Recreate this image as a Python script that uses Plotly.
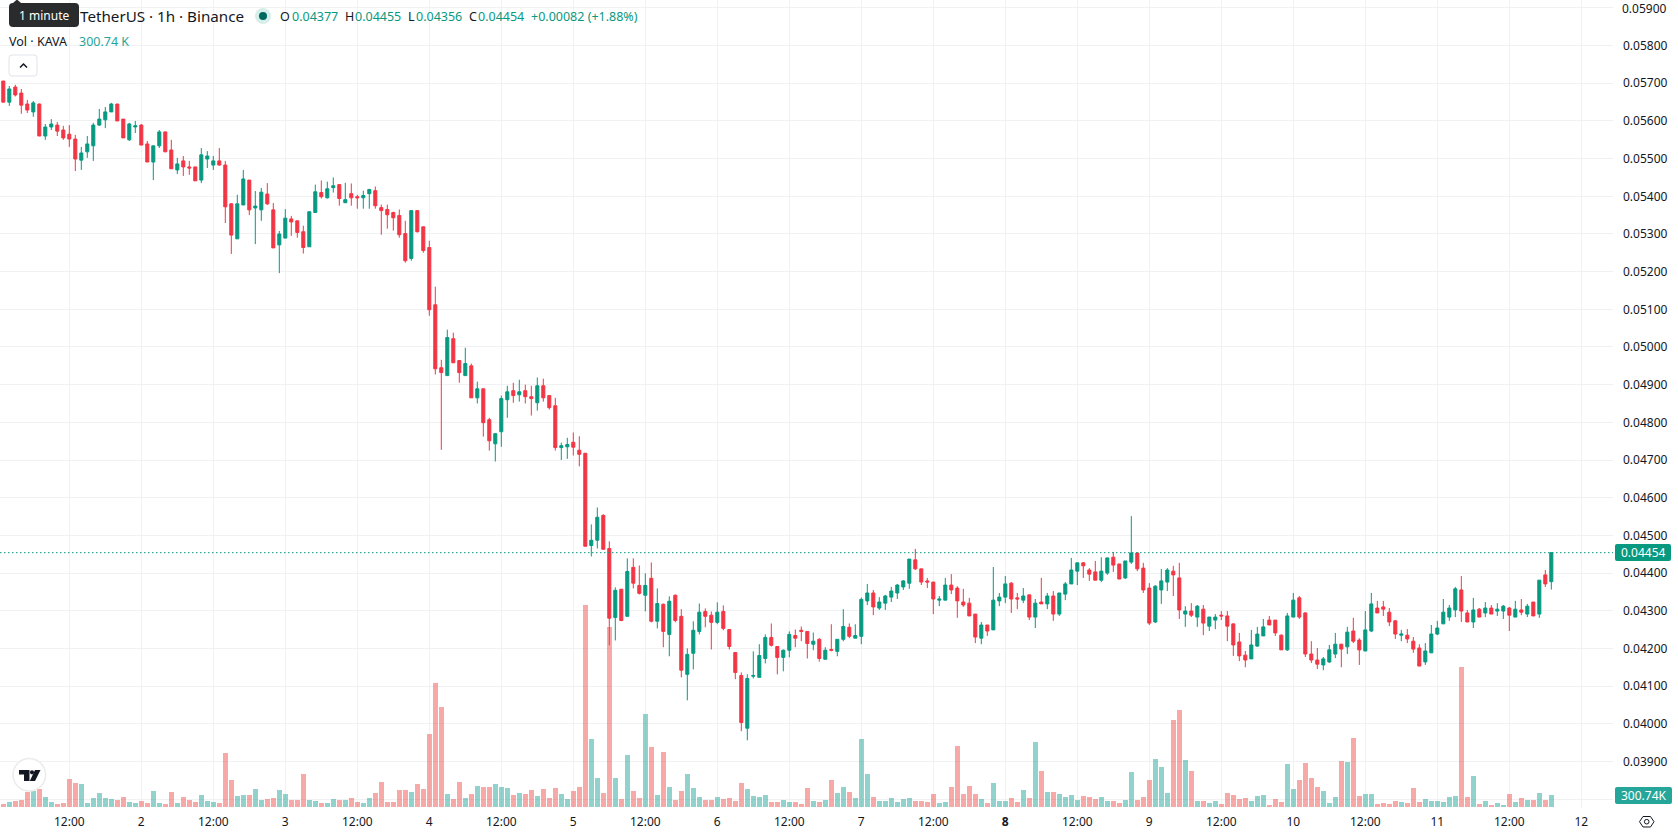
import plotly.graph_objects as go

FONT = "Noto Sans"
INK = "#131722"
UP = "#089981"
DOWN = "#f23645"
GRID = "#f0f1f3"
WIDTH, HEIGHT = 1678, 835
PANE_W, PANE_H = 1613, 808

# Hourly KAVA/USDT candles, prices in units of 0.00001
opens_e5 = [
    5706,5650,5690,5674,5645,5624,5645,5560,5584,5589,5576,5565,5552,5496,5518,5534,
    5589,5603,5624,5645,5605,5550,5584,5589,5539,5491,5534,5571,5523,5470,5494,5478,
    5478,5443,5499,5483,5494,5483,5380,5287,5377,5443,5369,5364,5406,5364,5271,5289,
    5340,5335,5306,5266,5357,5410,5396,5423,5431,5383,5407,5399,5396,5407,5415,5370,
    5365,5357,5349,5301,5235,5362,5319,5264,5112,4945,4924,5022,4964,4924,4950,4865,
    4889,4807,4743,4775,4860,4884,4873,4884,4868,4852,4897,4871,4844,4733,4735,4747,
    4726,4718,4473,4487,4553,4465,4282,4357,4285,4415,4367,4341,4386,4272,4317,4237,
    4341,4285,4131,4187,4245,4298,4288,4269,4298,4250,4189,4128,3988,4126,4123,4173,
    4229,4205,4176,4195,4234,4248,4245,4211,4224,4171,4197,4192,4224,4256,4227,4232,
    4326,4347,4307,4320,4336,4347,4363,4373,4435,4411,4379,4376,4328,4328,4368,4360,
    4323,4320,4291,4227,4262,4249,4326,4336,4373,4334,4328,4342,4283,4323,4318,4339,
    4291,4344,4371,4405,4427,4408,4403,4381,4400,4442,4424,4387,4429,4453,4413,4360,
    4270,4355,4376,4405,4387,4291,4299,4283,4304,4259,4275,4288,4286,4265,4217,4182,
    4172,4206,4233,4275,4275,4235,4196,4283,4334,4294,4185,4169,4156,4164,4185,4211,
    4204,4246,4222,4193,4246,4307,4310,4296,4273,4235,4235,4219,4201,4164,4188,4238,
    4265,4283,4302,4355,4294,4270,4304,4294,4307,4299,4299,4307,4283,4302,4291,4323,
    4291,4395,4377,
]
highs_e5 = [
    5706,5693,5696,5685,5656,5653,5646,5592,5605,5597,5587,5589,5563,5531,5560,5595,
    5632,5637,5648,5645,5605,5595,5600,5592,5547,5534,5576,5571,5550,5502,5507,5494,
    5478,5528,5520,5507,5528,5494,5382,5404,5470,5443,5414,5422,5435,5382,5308,5366,
    5348,5335,5322,5359,5431,5442,5439,5450,5431,5436,5434,5404,5415,5420,5426,5378,
    5378,5359,5365,5335,5362,5362,5319,5282,5160,4966,5046,5038,4964,4998,4956,4908,
    4889,4812,4770,4871,4897,4905,4913,4900,4897,4919,4916,4871,4865,4746,4759,4773,
    4763,4718,4529,4574,4556,4484,4362,4357,4439,4439,4420,4399,4428,4359,4319,4338,
    4343,4304,4200,4272,4319,4306,4298,4322,4314,4250,4189,4136,4131,4192,4211,4237,
    4266,4205,4197,4245,4250,4258,4245,4242,4227,4203,4264,4224,4304,4266,4264,4335,
    4371,4355,4336,4342,4363,4371,4381,4437,4464,4411,4387,4376,4339,4387,4397,4365,
    4358,4334,4291,4270,4262,4416,4347,4392,4376,4347,4360,4342,4331,4387,4347,4352,
    4347,4376,4440,4427,4429,4413,4432,4442,4441,4456,4424,4432,4551,4455,4427,4373,
    4368,4411,4413,4419,4427,4312,4320,4315,4315,4284,4291,4299,4299,4265,4241,4193,
    4249,4257,4278,4286,4275,4237,4294,4347,4339,4296,4219,4201,4177,4209,4241,4212,
    4257,4281,4227,4299,4347,4326,4326,4307,4275,4249,4251,4230,4211,4214,4262,4273,
    4331,4315,4363,4392,4302,4334,4307,4323,4315,4320,4315,4310,4326,4331,4318,4323,
    4381,4408,4455,
]
lows_e5 = [
    5650,5640,5665,5619,5621,5611,5560,5550,5576,5560,5550,5531,5467,5470,5502,5494,
    5587,5581,5624,5600,5555,5547,5568,5536,5491,5443,5528,5518,5473,5459,5454,5457,
    5441,5435,5475,5470,5481,5329,5247,5287,5377,5350,5273,5335,5377,5263,5196,5289,
    5295,5290,5248,5266,5357,5394,5394,5410,5375,5383,5375,5367,5367,5367,5367,5298,
    5314,5309,5290,5224,5229,5304,5250,5083,4927,4727,4924,4958,4905,4924,4865,4850,
    4762,4725,4696,4735,4812,4852,4855,4850,4818,4831,4855,4834,4725,4700,4703,4712,
    4683,4471,4444,4465,4463,4208,4221,4272,4285,4359,4343,4298,4269,4253,4203,4179,
    4269,4123,4062,4144,4237,4256,4197,4264,4248,4197,4118,3980,3956,4120,4123,4160,
    4205,4131,4139,4176,4203,4219,4173,4195,4165,4171,4192,4179,4219,4227,4227,4211,
    4315,4288,4302,4302,4323,4331,4355,4358,4408,4368,4360,4291,4312,4328,4344,4281,
    4310,4286,4214,4211,4233,4249,4312,4320,4294,4304,4320,4275,4254,4318,4304,4273,
    4286,4328,4371,4368,4387,4379,4381,4376,4395,4403,4384,4384,4424,4405,4347,4262,
    4267,4318,4352,4339,4278,4257,4283,4257,4235,4246,4251,4275,4219,4180,4166,4150,
    4172,4204,4233,4262,4233,4196,4193,4283,4278,4177,4161,4145,4142,4161,4174,4150,
    4185,4214,4156,4193,4243,4294,4286,4259,4225,4219,4214,4188,4153,4156,4188,4235,
    4265,4273,4283,4270,4270,4254,4283,4283,4291,4286,4278,4246,4283,4288,4283,4286,
    4281,4363,4356,
]
closes_e5 = [
    5650,5685,5669,5642,5629,5648,5560,5584,5592,5573,5555,5552,5499,5515,5539,5589,
    5605,5624,5645,5600,5555,5592,5587,5536,5491,5534,5571,5518,5473,5486,5478,5475,
    5441,5510,5507,5494,5483,5372,5297,5380,5446,5364,5374,5411,5380,5263,5300,5342,
    5332,5304,5264,5359,5412,5399,5420,5428,5394,5391,5396,5396,5402,5418,5375,5362,
    5351,5343,5298,5229,5362,5306,5256,5099,4942,4932,5025,4958,4932,4956,4865,4889,
    4799,4751,4770,4863,4881,4871,4881,4868,4863,4897,4865,4839,4733,4738,4741,4734,
    4715,4471,4487,4548,4463,4280,4354,4274,4404,4373,4346,4367,4272,4319,4245,4325,
    4274,4142,4184,4248,4296,4285,4269,4296,4253,4205,4136,4003,4120,4128,4181,4229,
    4208,4176,4195,4237,4227,4245,4213,4219,4173,4195,4195,4224,4258,4232,4234,4330,
    4347,4310,4323,4339,4352,4368,4379,4437,4411,4376,4376,4331,4331,4368,4355,4326,
    4315,4286,4230,4262,4246,4328,4336,4371,4331,4331,4339,4283,4320,4318,4339,4291,
    4347,4371,4408,4427,4419,4397,4381,4405,4440,4421,4384,4432,4453,4411,4355,4267,
    4365,4379,4408,4395,4302,4299,4288,4312,4267,4283,4283,4286,4259,4209,4180,4169,
    4209,4238,4257,4262,4241,4196,4286,4328,4283,4185,4169,4158,4172,4196,4211,4198,
    4243,4219,4196,4249,4318,4294,4304,4270,4238,4238,4225,4198,4153,4193,4238,4254,
    4296,4307,4358,4299,4270,4302,4283,4307,4291,4304,4312,4288,4304,4296,4312,4286,
    4381,4371,4454,
]
# Traded volume in thousands of KAVA
volumes_k = [
    69,120,146,172,378,404,456,249,120,69,95,714,611,585,95,224,
    353,224,198,172,249,120,95,146,95,404,95,69,378,95,249,172,
    120,301,146,120,95,1385,688,275,301,301,456,172,198,224,430,327,
    172,172,843,172,146,95,95,198,172,172,224,120,95,224,353,636,
    120,120,430,430,378,585,456,1875,3191,2571,327,198,636,224,327,533,
    507,507,585,507,482,301,353,327,430,275,456,224,482,327,198,404,
    507,5212,1746,740,353,4644,740,198,1333,404,224,2391,1539,301,1410,507,
    172,404,843,482,249,172,172,249,198,224,146,611,456,275,249,301,
    120,120,172,120,120,69,482,146,120,172,688,353,507,378,224,1746,
    843,249,146,146,224,120,198,224,146,146,120,327,95,120,507,1565,
    327,533,327,198,95,611,146,146,224,120,430,224,1668,920,378,378,
    327,249,301,172,275,249,198,249,146,146,95,172,894,172,249,688,
    1230,1023,353,2236,2494,1204,920,146,146,95,146,69,353,301,198,224,
    146,275,301,43,198,120,1101,456,688,1127,740,507,404,95,249,1178,
    1152,1772,275,327,327,69,95,69,146,120,95,482,120,198,146,146,
    120,249,275,3603,249,791,69,146,43,95,43,327,120,224,172,172,
    353,172,300.74,
]
assert len(opens_e5) == len(highs_e5) == len(lows_e5) == len(closes_e5) == len(volumes_k)

# Hours counted from midnight of day 1; the first candle opens at 01:00
hours = list(range(1, len(opens_e5) + 1))

price_levels = [
    0.038,0.039,0.040,0.041,0.042,0.043,0.044,0.045,0.046,0.047,0.048,
    0.049,0.050,0.051,0.052,0.053,0.054,0.055,0.056,0.057,0.058,0.059,
]
# The lowest level sits behind the volume tag; the topmost label is placed by hand at the pane edge
price_labels = [""] + [f"{p:.5f}" for p in price_levels[1:-1]] + [""]
time_ticks = [12*k for k in range(1, 23)]
time_labels = ["12:00","2","12:00","3","12:00","4","12:00","5","12:00","6","12:00",
               "7","12:00","<b>8</b>","12:00","9","12:00","10","12:00","11","12:00","12"]

last_price = closes_e5[-1] / 1e5

opens = [v / 1e5 for v in opens_e5]
highs = [v / 1e5 for v in highs_e5]
lows = [v / 1e5 for v in lows_e5]
closes = [v / 1e5 for v in closes_e5]
vol_colors = ["rgba(38,166,154,0.5)" if c >= o else "rgba(239,83,80,0.5)"
              for o, c in zip(opens_e5, closes_e5)]


def px(x):
    return x / PANE_W


def py(y):
    return 1 - y / PANE_H


def path(points, close=True):
    d = "M" + " L".join(f"{px(x):.5f},{py(y):.5f}" for x, y in points)
    return d + (" Z" if close else "")


def rounded(x0, y0, x1, y1, r):
    a, b, c, d = px(x0), py(y0), px(x1), py(y1)
    rx, ry = r / PANE_W, r / PANE_H
    return (f"M{a+rx:.5f},{b:.5f} L{c-rx:.5f},{b:.5f} Q{c:.5f},{b:.5f} {c:.5f},{b-ry:.5f} "
            f"L{c:.5f},{d+ry:.5f} Q{c:.5f},{d:.5f} {c-rx:.5f},{d:.5f} "
            f"L{a+rx:.5f},{d:.5f} Q{a:.5f},{d:.5f} {a:.5f},{d+ry:.5f} "
            f"L{a:.5f},{b-ry:.5f} Q{a:.5f},{b:.5f} {a+rx:.5f},{b:.5f} Z")


def shape_path(d, fill="rgba(0,0,0,0)", line=None, width=1):
    return dict(type="path", path=d, xref="paper", yref="paper", fillcolor=fill,
                line=dict(color=line or "rgba(0,0,0,0)", width=width if line else 0),
                layer="above")


def circle(cx, cy, r, fill, line=None, width=1):
    return dict(type="circle", xref="paper", yref="paper", layer="above",
                x0=px(cx - r), x1=px(cx + r), y0=py(cy + r), y1=py(cy - r),
                fillcolor=fill,
                line=dict(color=line or "rgba(0,0,0,0)", width=width if line else 0))


def label(x, y, text, size=12.5, color=INK, xanchor="left"):
    return dict(x=px(x), y=py(y), xref="paper", yref="paper", text=text, showarrow=False,
                xanchor=xanchor, yanchor="middle", align="left",
                font=dict(family=FONT, size=size, color=color), borderpad=0, borderwidth=0)


fig = go.Figure()
fig.add_trace(go.Bar(x=hours, y=volumes_k, width=0.83, marker=dict(color=vol_colors, line=dict(width=0)),
                     yaxis="y", hoverinfo="skip", showlegend=False))
fig.add_trace(go.Candlestick(
    x=hours, open=opens, high=highs, low=lows, close=closes, yaxis="y2",
    increasing=dict(line=dict(color=UP, width=1), fillcolor=UP),
    decreasing=dict(line=dict(color=DOWN, width=1), fillcolor=DOWN),
    whiskerwidth=0, hoverinfo="skip", showlegend=False))

shapes = [
    # Last-price line and the axis tags
    dict(type="line", xref="paper", yref="y2", x0=0, x1=1, y0=last_price, y1=last_price,
         line=dict(color=UP, width=1, dash="1.5px,2.5px"), layer="above"),
    shape_path(rounded(1615, 544, 1671, 561, 2), fill=UP),
    shape_path(rounded(1615, 787, 1672, 804, 2), fill="#26a69a"),
    # Tooltip over the title
    shape_path(rounded(9, 3, 79, 27, 4), fill="#2a2b2d"),
    shape_path(path([(13, 3), (17, -0.5), (21, 3)]), fill="#2a2b2d"),
    # Market status dot
    circle(263, 16, 8, "#d8eeea"),
    circle(263, 16, 4, "#00695c"),
    # Collapse button
    shape_path(rounded(9, 55, 37, 76, 3), fill="#ffffff", line="#e0e3eb"),
    shape_path(path([(20, 67.5), (23.5, 64), (27, 67.5)], close=False), line=INK, width=1.5),
    # Watermark badge
    circle(29.3, 774.7, 16.3, "#ffffff", line="#ebebeb", width=1.5),
    shape_path(path([(19, 770), (29.5, 770), (29.5, 781), (24, 781), (24, 774.5), (19, 774.5)]), fill="#131722"),
    circle(32, 772.3, 2.1, "#131722"),
    shape_path(path([(35, 770), (40.5, 770), (35, 781), (29.8, 781)]), fill="#131722"),
    # Settings glyph beside the time scale
    shape_path(path([(1639.5, 821.7), (1643, 816.5), (1650.5, 816.5), (1654, 821.7),
                     (1650.5, 827), (1643, 827)]), line=INK, width=1),
    circle(1646.7, 821.7, 2.3, "rgba(0,0,0,0)", line=INK, width=1),
]

annotations = [
    label(79.5, 16, "TetherUS · 1h · Binance", size=15.2),
    label(280, 16, "O"), label(292, 16, "0.04377", color=UP),
    label(345, 16, "H"), label(355, 16, "0.04455", color=UP),
    label(408, 16, "L"), label(416, 16, "0.04356", color=UP),
    label(469, 16, "C"), label(478, 16, "0.04454", color=UP),
    label(531, 16, "+0.00082 (+1.88%)", color=UP),
    label(9, 41, "Vol · KAVA"),
    label(79, 41, "300.74 K", color="#26a69a"),
    label(44, 15.5, "1 minute", size=12, color="#ffffff", xanchor="center"),
    label(1643, 552.5, "0.04454", size=12, color="#ffffff", xanchor="center"),
    label(1643.5, 795.5, "300.74K", size=12, color="#ffffff", xanchor="center"),
    label(1622, 8, "0.05900", size=12),
]

fig.update_layout(
    width=WIDTH, height=HEIGHT,
    margin=dict(l=0, r=WIDTH - PANE_W, t=0, b=HEIGHT - PANE_H, pad=0),
    paper_bgcolor="#ffffff", plot_bgcolor="#ffffff",
    boxgap=0.27, showlegend=False, hovermode=False, bargap=0,
    font=dict(family=FONT, size=12, color=INK),
    xaxis=dict(range=[0.45, 269.28], tickmode="array", tickvals=time_ticks, ticktext=time_labels,
               showgrid=True, gridcolor=GRID, gridwidth=1, zeroline=False, showline=False,
               ticks="", rangeslider=dict(visible=False), tickfont=dict(family=FONT, size=12, color=INK),
               ticklabelstandoff=5),
    # Volume scale: hidden, keeps the bars along the bottom of the pane
    yaxis=dict(range=[-33, 20813], visible=False, showgrid=False, zeroline=False),
    yaxis2=dict(overlaying="y", side="right", anchor="x", range=[0.037762, 0.059211],
                tickmode="array", tickvals=price_levels, ticktext=price_labels,
                showgrid=True, gridcolor=GRID, gridwidth=1, zeroline=False, showline=False,
                ticks="", tickfont=dict(family=FONT, size=12, color=INK), ticklabelstandoff=9),
    shapes=shapes, annotations=annotations,
)

fig.write_html("out.html", config=dict(displayModeBar=False))
